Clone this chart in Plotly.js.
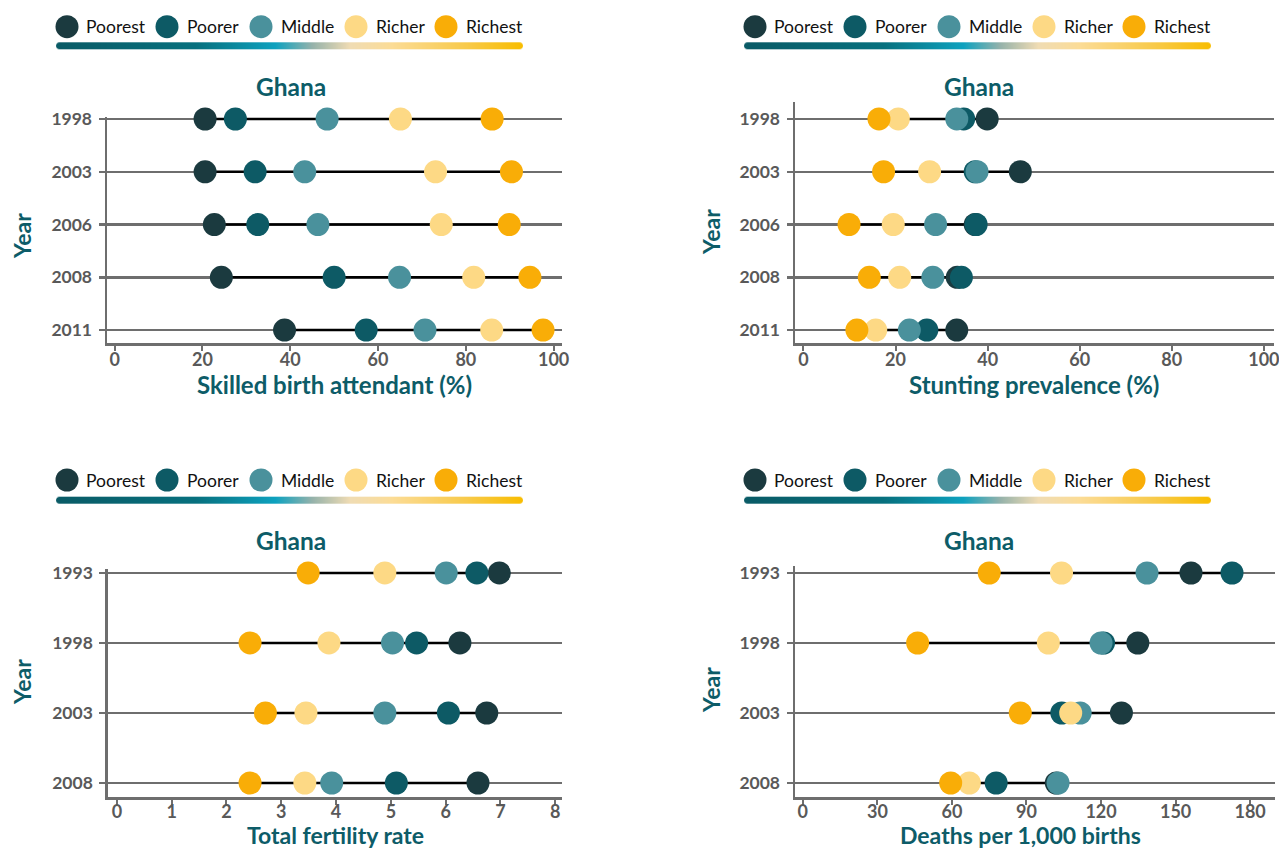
<!DOCTYPE html>
<html><head><meta charset="utf-8">
<script src="https://cdn.plot.ly/plotly-3.0.1.min.js"></script>
<style>body{margin:0;background:#fff}#chart{width:1279px;height:850px}</style>
</head><body><div id="chart"></div>
<script>
// ---------- data ----------
const groups = ["Poorest", "Poorer", "Middle", "Richer", "Richest"];
const groupColors = ["#1b3a3f", "#0d5a65", "#4a919c", "#fdd985", "#f9ad07"];

const yearsTop = ["1998", "2003", "2006", "2008", "2011"];
const yearsBottom = ["1993", "1998", "2003", "2008"];

// Skilled birth attendant (%)
const sbaPoorest = [20.6, 20.6, 22.7, 24.3, 38.7];
const sbaPoorer  = [27.5, 32.0, 32.6, 50.0, 57.3];
const sbaMiddle  = [48.4, 43.3, 46.3, 64.9, 70.7];
const sbaRicher  = [65.1, 73.1, 74.4, 81.8, 85.9];
const sbaRichest = [86.0, 90.4, 89.9, 94.6, 97.6];

// Stunting prevalence (%)
const stuntPoorest = [39.9, 47.1, 37.3, 33.4, 33.3];
const stuntPoorer  = [34.8, 37.3, 37.5, 34.3, 26.8];
const stuntMiddle  = [33.3, 37.7, 28.7, 28.1, 23.0];
const stuntRicher  = [20.6, 27.4, 19.5, 20.9, 15.7];
const stuntRichest = [16.4, 17.4, 9.9, 14.3, 11.6];

// Total fertility rate
const tfrPoorest = [6.98, 6.26, 6.75, 6.59];
const tfrPoorer  = [6.57, 5.47, 6.05, 5.10];
const tfrMiddle  = [6.01, 5.03, 4.89, 3.92];
const tfrRicher  = [4.89, 3.87, 3.45, 3.43];
const tfrRichest = [3.49, 2.43, 2.71, 2.43];

// Deaths per 1,000 births
const mortPoorest = [156.2, 134.8, 128.2, 102.0];
const mortPoorer  = [172.7, 121.0, 104.2, 77.8];
const mortMiddle  = [138.5, 120.0, 111.6, 102.7];
const mortRicher  = [104.1, 98.8, 107.8, 67.0];
const mortRichest = [75.0, 46.2, 87.5, 59.5];

const panelTitles = ["Ghana", "Ghana", "Ghana", "Ghana"];
const xTitles = ["Skilled birth attendant (%)", "Stunting prevalence (%)", "Total fertility rate", "Deaths per 1,000 births"];
const yTitle = "Year";
const xTicksA = [0, 20, 40, 60, 80, 100];
const xTicksB = [0, 20, 40, 60, 80, 100];
const xTicksC = [0, 1, 2, 3, 4, 5, 6, 7, 8];
const xTicksD = [0, 30, 60, 90, 120, 150, 180];

// ---------- styling ----------
const W = 1279, H = 850;
const px = x => x / W;
const py = y => 1 - y / H;
const TEAL = "#0d5c68";
const GREY = "#595959";
const LINEGREY = "#6e6e6e";
const FONT = "Lato, 'Open Sans', sans-serif";

const panels = [
  {years: yearsTop, series: [sbaPoorest, sbaPoorer, sbaMiddle, sbaRicher, sbaRichest], ticks: xTicksA,
   xd: [107, 561.5], yd: [117, 343], xr: [-1.75, 101.8], yr: [4.246, -0.038],
   title: [290.5, 86.7], xt: [334, 385, "middle"], xts: 24, tso: -6, yt: [22, 236]},
  {years: yearsTop, series: [stuntPoorest, stuntPoorer, stuntMiddle, stuntRicher, stuntRichest], ticks: xTicksB,
   xd: [795, 1274], yd: [102, 343], xr: [-1.84, 102.2], yr: [4.246, -0.322],
   title: [978.6, 86.7], xt: [1034, 385, "middle"], xts: 24, tso: -6, yt: [711, 232]},
  {years: yearsBottom, series: [tfrPoorest, tfrPoorer, tfrMiddle, tfrRicher, tfrRichest], ticks: xTicksC,
   xd: [107.8, 561.5], yd: [569, 797], xr: [-0.166, 8.114], yr: [3.2, -0.057],
   title: [290.5, 540.7], xt: [335, 850, "bottom"], xts: 23, tso: -8, yt: [22, 682]},
  {years: yearsBottom, series: [mortPoorest, mortPoorer, mortMiddle, mortRicher, mortRichest], ticks: xTicksD,
   xd: [795, 1275], yd: [566, 797], xr: [-3.15, 190], yr: [3.2, -0.1],
   title: [978.6, 540.7], xt: [1020, 850, "bottom"], xts: 23, tso: -8, yt: [711, 690]}
];

const traces = [];
const layout = {
  width: W, height: H,
  margin: {l: 0, r: 0, t: 0, b: 0},
  paper_bgcolor: "#fff", plot_bgcolor: "#fff",
  showlegend: false,
  font: {family: FONT},
  shapes: [], annotations: [], images: []
};

panels.forEach((p, i) => {
  const n = i === 0 ? "" : String(i + 1);
  const xa = "x" + n, ya = "y" + n;
  // connecting black segment between min and max per year
  const lx = [], ly = [];
  p.years.forEach((yr, k) => {
    const vals = p.series.map(s => s[k]);
    lx.push(Math.min(...vals), Math.max(...vals), null);
    ly.push(yr, yr, null);
  });
  traces.push({type: "scatter", mode: "lines", x: lx, y: ly, xaxis: xa, yaxis: ya,
    line: {color: "#000", width: 2.5}, hoverinfo: "skip", cliponaxis: false});
  p.series.forEach((s, g) => {
    traces.push({type: "scatter", mode: "markers", name: groups[g], x: s, y: p.years,
      xaxis: xa, yaxis: ya, cliponaxis: false,
      marker: {size: 23, color: groupColors[g], line: {width: 0}}});
  });
  layout["xaxis" + n] = {
    domain: [px(p.xd[0]), px(p.xd[1])], anchor: ya, range: p.xr,
    tickmode: "array", tickvals: p.ticks,
    showgrid: false, zeroline: false, showline: true, linecolor: LINEGREY, linewidth: 2.5,
    ticks: "outside", ticklen: 5, tickwidth: 2, tickcolor: LINEGREY,
    ticklabelstandoff: p.tso, ticklabeloverflow: "allow",
    tickfont: {family: FONT, size: 18, color: GREY, weight: 700},
    fixedrange: true
  };
  layout["yaxis" + n] = {
    domain: [py(p.yd[1]), py(p.yd[0])], anchor: xa, type: "category",
    categoryorder: "array", categoryarray: p.years, range: p.yr,
    showgrid: true, gridcolor: LINEGREY, gridwidth: 2.5, zeroline: false,
    showline: true, linecolor: LINEGREY, linewidth: 2.5,
    ticks: "outside", ticklen: 6, tickwidth: 2.5, tickcolor: LINEGREY,
    ticklabelstandoff: 3,
    tickfont: {family: FONT, size: 17.5, color: GREY, weight: 700},
    fixedrange: true
  };
  // panel title
  layout.annotations.push({text: panelTitles[i], x: px(p.title[0]), y: py(p.title[1]), xref: "paper", yref: "paper",
    xanchor: "center", yanchor: "middle", showarrow: false,
    font: {family: FONT, size: 24.5, color: TEAL, weight: 700}});
  // x-axis title
  layout.annotations.push({text: xTitles[i], x: px(p.xt[0]), y: py(p.xt[1]), xref: "paper", yref: "paper",
    xanchor: "center", yanchor: p.xt[2], showarrow: false, borderpad: 0,
    font: {family: FONT, size: p.xts, color: TEAL, weight: 700}});
  // y-axis title
  layout.annotations.push({text: yTitle, x: px(p.yt[0]), y: py(p.yt[1]), xref: "paper", yref: "paper",
    xanchor: "center", yanchor: "middle", showarrow: false, textangle: -90,
    font: {family: FONT, size: 23, color: TEAL, weight: 700}});
});

// gradient bar image
function gradientURL(w, h) {
  const c = document.createElement("canvas");
  c.width = w; c.height = h;
  const ctx = c.getContext("2d");
  const g = ctx.createLinearGradient(0, 0, w, 0);
  g.addColorStop(0, "#0a5b66");
  g.addColorStop(0.3, "#08717f");
  g.addColorStop(0.47, "#0ea2bf");
  g.addColorStop(0.55, "#97b3ab");
  g.addColorStop(0.63, "#f0dcb4");
  g.addColorStop(0.72, "#fcdc96");
  g.addColorStop(0.88, "#f8ca4a");
  g.addColorStop(1, "#f8bd00");
  ctx.fillStyle = g;
  const r = h / 2;
  ctx.beginPath();
  ctx.moveTo(r, 0); ctx.lineTo(w - r, 0); ctx.arc(w - r, r, r, -Math.PI / 2, Math.PI / 2);
  ctx.lineTo(r, h); ctx.arc(r, r, r, Math.PI / 2, 3 * Math.PI / 2); ctx.closePath();
  ctx.fill();
  return c.toDataURL("image/png");
}
const gradSrc = gradientURL(467 * 2, 14);

// legends
const legendOrigins = [[67, 26.7, 42.3], [755, 26.7, 42.3], [67, 480, 496.7], [755, 480, 496.7]];
const circleOffsets = [0, 100, 194, 289, 379];
legendOrigins.forEach(o => {
  const [cx0, cy, by] = o;
  groups.forEach((gname, g) => {
    const cx = cx0 + circleOffsets[g];
    layout.shapes.push({type: "circle", xref: "paper", yref: "paper",
      xsizemode: "pixel", ysizemode: "pixel", xanchor: px(cx), yanchor: py(cy),
      x0: -11.5, x1: 11.5, y0: -11.5, y1: 11.5,
      fillcolor: groupColors[g], line: {width: 0}});
    layout.annotations.push({text: gname, x: px(cx + 17.5), y: py(cy), xref: "paper", yref: "paper",
      xanchor: "left", yanchor: "middle", showarrow: false,
      font: {family: FONT, size: 17.5, color: "#111"}});
  });
  layout.images.push({source: gradSrc, xref: "paper", yref: "paper",
    x: px(cx0 - 11), y: py(by), sizex: 467 / W, sizey: 7 / H,
    xanchor: "left", yanchor: "top", sizing: "stretch", layer: "above"});
});

Plotly.newPlot("chart", traces, layout, {displayModeBar: false, staticPlot: true});
</script>
</body></html>
